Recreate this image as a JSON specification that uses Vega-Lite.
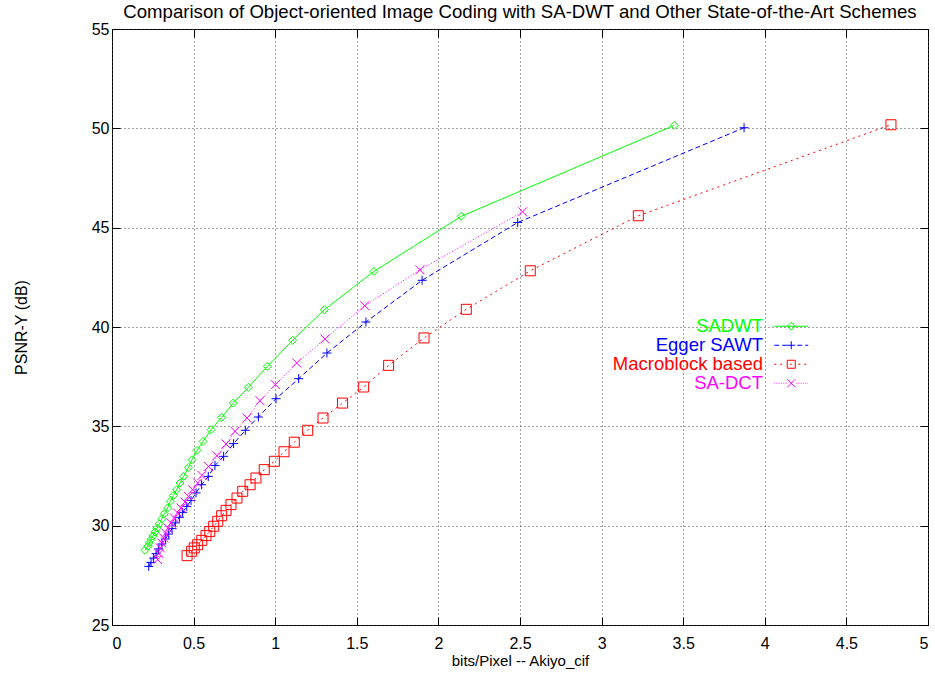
{
  "$schema": "https://vega.github.io/schema/vega-lite/v6.json",
  "width": 816,
  "height": 596,
  "autosize": {"type": "none"},
  "padding": {"left": 112, "top": 29, "right": 7, "bottom": 50},
  "background": "white",
  "title": {"text": "Comparison of Object-oriented Image Coding with SA-DWT and Other State-of-the-Art Schemes", "fontSize": 18.6, "fontWeight": "normal", "font": "Liberation Sans", "anchor": "middle", "offset": -1, "color": "#000"},
  "config": {
    "font": "Liberation Sans",
    "view": {"stroke": "#000", "strokeWidth": 1},
    "axis": {"labelFontSize": 16, "titleFontSize": 15, "titleFontWeight": "normal", "labelColor": "#000", "titleColor": "#000", "domain": false, "tickColor": "#000", "gridColor": "#444", "gridDash": [1, 3], "gridWidth": 1}
  },
  "data": {"values": [
    {"s": "SADWT", "x": 0.202, "y": 28.76}, {"s": "SADWT", "x": 0.219, "y": 28.96}, {"s": "SADWT", "x": 0.229, "y": 29.13}, {"s": "SADWT", "x": 0.239, "y": 29.30}, {"s": "SADWT", "x": 0.251, "y": 29.48}, {"s": "SADWT", "x": 0.263, "y": 29.68}, {"s": "SADWT", "x": 0.276, "y": 29.87}, {"s": "SADWT", "x": 0.290, "y": 30.09}, {"s": "SADWT", "x": 0.306, "y": 30.35}, {"s": "SADWT", "x": 0.320, "y": 30.60}, {"s": "SADWT", "x": 0.341, "y": 30.89}, {"s": "SADWT", "x": 0.357, "y": 31.22}, {"s": "SADWT", "x": 0.376, "y": 31.52}, {"s": "SADWT", "x": 0.396, "y": 31.81}, {"s": "SADWT", "x": 0.417, "y": 32.15}, {"s": "SADWT", "x": 0.439, "y": 32.48}, {"s": "SADWT", "x": 0.468, "y": 32.93}, {"s": "SADWT", "x": 0.490, "y": 33.32}, {"s": "SADWT", "x": 0.521, "y": 33.79}, {"s": "SADWT", "x": 0.558, "y": 34.24}, {"s": "SADWT", "x": 0.607, "y": 34.83}, {"s": "SADWT", "x": 0.672, "y": 35.45}, {"s": "SADWT", "x": 0.743, "y": 36.17}, {"s": "SADWT", "x": 0.835, "y": 36.96}, {"s": "SADWT", "x": 0.952, "y": 38.02}, {"s": "SADWT", "x": 1.107, "y": 39.33}, {"s": "SADWT", "x": 1.301, "y": 40.87}, {"s": "SADWT", "x": 1.605, "y": 42.80}, {"s": "SADWT", "x": 2.140, "y": 45.57}, {"s": "SADWT", "x": 3.445, "y": 50.15},
    {"s": "Egger SAWT", "x": 0.225, "y": 27.95}, {"s": "Egger SAWT", "x": 0.239, "y": 28.15}, {"s": "Egger SAWT", "x": 0.255, "y": 28.37}, {"s": "Egger SAWT", "x": 0.270, "y": 28.59}, {"s": "Egger SAWT", "x": 0.286, "y": 28.83}, {"s": "Egger SAWT", "x": 0.306, "y": 29.08}, {"s": "Egger SAWT", "x": 0.327, "y": 29.33}, {"s": "Egger SAWT", "x": 0.347, "y": 29.58}, {"s": "Egger SAWT", "x": 0.368, "y": 29.85}, {"s": "Egger SAWT", "x": 0.388, "y": 30.14}, {"s": "Egger SAWT", "x": 0.413, "y": 30.42}, {"s": "Egger SAWT", "x": 0.433, "y": 30.67}, {"s": "Egger SAWT", "x": 0.458, "y": 30.97}, {"s": "Egger SAWT", "x": 0.484, "y": 31.27}, {"s": "Egger SAWT", "x": 0.515, "y": 31.65}, {"s": "Egger SAWT", "x": 0.549, "y": 32.06}, {"s": "Egger SAWT", "x": 0.590, "y": 32.48}, {"s": "Egger SAWT", "x": 0.631, "y": 33.03}, {"s": "Egger SAWT", "x": 0.684, "y": 33.49}, {"s": "Egger SAWT", "x": 0.745, "y": 34.13}, {"s": "Egger SAWT", "x": 0.817, "y": 34.80}, {"s": "Egger SAWT", "x": 0.897, "y": 35.47}, {"s": "Egger SAWT", "x": 1.005, "y": 36.39}, {"s": "Egger SAWT", "x": 1.144, "y": 37.40}, {"s": "Egger SAWT", "x": 1.317, "y": 38.69}, {"s": "Egger SAWT", "x": 1.556, "y": 40.25}, {"s": "Egger SAWT", "x": 1.900, "y": 42.35}, {"s": "Egger SAWT", "x": 2.486, "y": 45.26}, {"s": "Egger SAWT", "x": 3.873, "y": 50.03},
    {"s": "Macroblock based", "x": 0.460, "y": 28.49}, {"s": "Macroblock based", "x": 0.488, "y": 28.71}, {"s": "Macroblock based", "x": 0.504, "y": 28.88}, {"s": "Macroblock based", "x": 0.525, "y": 29.04}, {"s": "Macroblock based", "x": 0.550, "y": 29.26}, {"s": "Macroblock based", "x": 0.576, "y": 29.50}, {"s": "Macroblock based", "x": 0.599, "y": 29.71}, {"s": "Macroblock based", "x": 0.623, "y": 29.97}, {"s": "Macroblock based", "x": 0.648, "y": 30.22}, {"s": "Macroblock based", "x": 0.672, "y": 30.50}, {"s": "Macroblock based", "x": 0.699, "y": 30.77}, {"s": "Macroblock based", "x": 0.729, "y": 31.06}, {"s": "Macroblock based", "x": 0.766, "y": 31.39}, {"s": "Macroblock based", "x": 0.801, "y": 31.73}, {"s": "Macroblock based", "x": 0.846, "y": 32.06}, {"s": "Macroblock based", "x": 0.882, "y": 32.40}, {"s": "Macroblock based", "x": 0.933, "y": 32.82}, {"s": "Macroblock based", "x": 0.995, "y": 33.24}, {"s": "Macroblock based", "x": 1.054, "y": 33.72}, {"s": "Macroblock based", "x": 1.117, "y": 34.20}, {"s": "Macroblock based", "x": 1.199, "y": 34.80}, {"s": "Macroblock based", "x": 1.293, "y": 35.42}, {"s": "Macroblock based", "x": 1.413, "y": 36.17}, {"s": "Macroblock based", "x": 1.542, "y": 36.98}, {"s": "Macroblock based", "x": 1.695, "y": 38.07}, {"s": "Macroblock based", "x": 1.912, "y": 39.45}, {"s": "Macroblock based", "x": 2.171, "y": 40.89}, {"s": "Macroblock based", "x": 2.563, "y": 42.83}, {"s": "Macroblock based", "x": 3.225, "y": 45.60}, {"s": "Macroblock based", "x": 4.773, "y": 50.18},
    {"s": "SA-DCT", "x": 0.280, "y": 28.29}, {"s": "SA-DCT", "x": 0.288, "y": 28.59}, {"s": "SA-DCT", "x": 0.296, "y": 28.88}, {"s": "SA-DCT", "x": 0.305, "y": 29.13}, {"s": "SA-DCT", "x": 0.317, "y": 29.38}, {"s": "SA-DCT", "x": 0.329, "y": 29.63}, {"s": "SA-DCT", "x": 0.345, "y": 29.88}, {"s": "SA-DCT", "x": 0.362, "y": 30.14}, {"s": "SA-DCT", "x": 0.382, "y": 30.39}, {"s": "SA-DCT", "x": 0.402, "y": 30.64}, {"s": "SA-DCT", "x": 0.423, "y": 30.89}, {"s": "SA-DCT", "x": 0.447, "y": 31.19}, {"s": "SA-DCT", "x": 0.468, "y": 31.47}, {"s": "SA-DCT", "x": 0.494, "y": 31.81}, {"s": "SA-DCT", "x": 0.525, "y": 32.15}, {"s": "SA-DCT", "x": 0.551, "y": 32.53}, {"s": "SA-DCT", "x": 0.592, "y": 32.98}, {"s": "SA-DCT", "x": 0.643, "y": 33.52}, {"s": "SA-DCT", "x": 0.699, "y": 34.11}, {"s": "SA-DCT", "x": 0.754, "y": 34.75}, {"s": "SA-DCT", "x": 0.827, "y": 35.42}, {"s": "SA-DCT", "x": 0.907, "y": 36.29}, {"s": "SA-DCT", "x": 1.001, "y": 37.10}, {"s": "SA-DCT", "x": 1.132, "y": 38.19}, {"s": "SA-DCT", "x": 1.305, "y": 39.40}, {"s": "SA-DCT", "x": 1.549, "y": 41.07}, {"s": "SA-DCT", "x": 1.887, "y": 42.88}, {"s": "SA-DCT", "x": 2.516, "y": 45.80}
  ]},
  "layer": [
    {
      "transform": [{"filter": "datum.s === 'SADWT'"}],
      "mark": {"type": "line", "strokeWidth": 1},
      "encoding": {
        "x": {"field": "x", "type": "quantitative", "scale": {"domain": [0, 5], "nice": false, "zero": false},
          "axis": {"orient": "bottom", "values": [0, 0.5, 1, 1.5, 2, 2.5, 3, 3.5, 4, 4.5, 5], "format": "~g", "title": "bits/Pixel -- Akiyo_cif", "tickSize": -8, "labelPadding": 18, "titlePadding": 2, "grid": true}},
        "y": {"field": "y", "type": "quantitative", "scale": {"domain": [25, 55], "nice": false, "zero": false},
          "axis": {"orient": "left", "values": [25, 30, 35, 40, 45, 50, 55], "title": "PSNR-Y (dB)", "titleFontSize": 16, "tickSize": -8, "labelPadding": 11, "titlePadding": 62, "grid": true}},
        "color": {
          "field": "s", "type": "nominal",
          "scale": {"domain": ["SADWT", "Egger SAWT", "Macroblock based", "SA-DCT"], "range": ["#00ff00", "#0000ff", "#ff0000", "#ff00ff"]},
          "legend": {
            "orient": "none", "legendX": 670, "legendY": 288, "title": null, "padding": 0,
            "labelFontSize": 18.5, "labelFont": "Liberation Sans", "labelLimit": 400,
            "symbolSize": 100, "rowPadding": 0,
            "encode": {
              "labels": {"update": {"fill": {"signal": "scale('color', datum.value)"}, "align": {"value": "right"}, "x": {"value": -19}}},
              "symbols": {"update": {
                "shape": {"signal": "datum.value === 'SADWT' ? 'M-3.4,0L3.4,0M0,-0.8L0.8,0L0,0.8L-0.8,0Z' : datum.value === 'Egger SAWT' ? 'M-3.4,0L-2.4,0M-1.8,0L-0.8,0M-0.8,0L0.8,0M0,-0.8L0,0.8M1.2,0L2.2,0M2.8,0L3.4,0' : datum.value === 'Macroblock based' ? 'M-3.4,0L-3,0M-2.2,0L-1.8,0M-0.8,-0.8L0.8,-0.8L0.8,0.8L-0.8,0.8ZM-0.3,0L0.1,0M1.4,0L1.8,0M2.6,0L3,0' : 'M-3.4,0L-3.28,0M-3.05,0L-2.93,0M-2.7,0L-2.58,0M-2.35,0L-2.23,0M-2,0L-1.88,0M-1.65,0L-1.53,0M-1.3,0L-1.18,0M-0.95,0L-0.83,0M-0.8,-0.8L0.8,0.8M-0.8,0.8L0.8,-0.8M1,0L1.12,0M1.35,0L1.47,0M1.7,0L1.82,0M2.05,0L2.17,0M2.4,0L2.52,0M2.75,0L2.87,0M3.1,0L3.22,0'"},
                "stroke": {"signal": "scale('color', datum.value)"},
                "strokeWidth": {"value": 1},
                "fill": {"value": "transparent"},
                "size": {"value": 100},
                "opacity": {"value": 1}
              }}
            }
          }
        }
      }
    },
    {
      "transform": [{"filter": "datum.s === 'Egger SAWT'"}],
      "mark": {"type": "line", "strokeWidth": 1, "color": "#0000ff", "strokeDash": [5, 3]},
      "encoding": {
        "x": {"field": "x", "type": "quantitative", "axis": null},
        "y": {"field": "y", "type": "quantitative", "axis": null}
      }
    },
    {
      "transform": [{"filter": "datum.s === 'Macroblock based'"}],
      "mark": {"type": "line", "strokeWidth": 1, "color": "#ff0000", "strokeDash": [2, 4]},
      "encoding": {
        "x": {"field": "x", "type": "quantitative", "axis": null},
        "y": {"field": "y", "type": "quantitative", "axis": null}
      }
    },
    {
      "transform": [{"filter": "datum.s === 'SA-DCT'"}],
      "mark": {"type": "line", "strokeWidth": 1, "color": "#ff00ff", "strokeDash": [1, 2]},
      "encoding": {
        "x": {"field": "x", "type": "quantitative", "axis": null},
        "y": {"field": "y", "type": "quantitative", "axis": null}
      }
    },
    {
      "transform": [{"filter": "datum.s === 'SADWT'"}],
      "mark": {"type": "point", "filled": false, "strokeWidth": 1, "opacity": 1, "color": "#00ff00", "shape": "M0,-1L1,0L0,1L-1,0Z", "size": 64},
      "encoding": {
        "x": {"field": "x", "type": "quantitative", "axis": {"orient": "top", "values": [0, 0.5, 1, 1.5, 2, 2.5, 3, 3.5, 4, 4.5, 5], "labels": false, "title": null, "tickSize": -8, "grid": false}},
        "y": {"field": "y", "type": "quantitative", "axis": {"orient": "right", "values": [25, 30, 35, 40, 45, 50, 55], "labels": false, "title": null, "tickSize": -8, "grid": false}}
      }
    },
    {
      "transform": [{"filter": "datum.s === 'Egger SAWT'"}],
      "mark": {"type": "point", "filled": false, "strokeWidth": 1, "opacity": 1, "color": "#0000ff", "shape": "M-1,0L1,0M0,-1L0,1", "size": 81},
      "encoding": {
        "x": {"field": "x", "type": "quantitative", "axis": null},
        "y": {"field": "y", "type": "quantitative", "axis": null}
      }
    },
    {
      "transform": [{"filter": "datum.s === 'Macroblock based'"}],
      "mark": {"type": "point", "filled": false, "strokeWidth": 1, "opacity": 1, "color": "#ff0000", "shape": "M-1,-1L1,-1L1,1L-1,1Z", "size": 100},
      "encoding": {
        "x": {"field": "x", "type": "quantitative", "axis": null},
        "y": {"field": "y", "type": "quantitative", "axis": null}
      }
    },
    {
      "transform": [{"filter": "datum.s === 'SA-DCT'"}],
      "mark": {"type": "point", "filled": false, "strokeWidth": 1, "opacity": 1, "color": "#ff00ff", "shape": "M-1,-1L1,1M-1,1L1,-1", "size": 81},
      "encoding": {
        "x": {"field": "x", "type": "quantitative", "axis": null},
        "y": {"field": "y", "type": "quantitative", "axis": null}
      }
    }
  ]
}
